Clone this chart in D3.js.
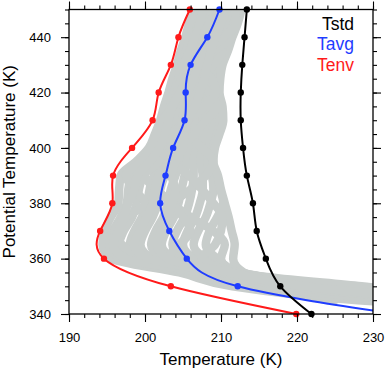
<!DOCTYPE html>
<html>
<head>
<meta charset="utf-8">
<script src="https://cdn.jsdelivr.net/npm/d3@7"></script>
<style>
  body { margin: 0; background: #fff; }
  svg text { font-family: "Liberation Sans", Arial, Helvetica, sans-serif; }
</style>
</head>
<body>
<div id="chart"></div>
<script>
// potential temperature levels (K)
const levels = [340, 350, 360, 370, 380, 390, 400, 410, 420, 430, 440, 450];
const tenv = [219.9, 203.4, 194.6, 194.1, 195.7, 195.8, 198.3, 201.0, 201.8, 203.4, 204.4, 205.9];
const tavg = [233.0, 212.2, 205.5, 203.2, 202.0, 202.7, 203.7, 205.2, 205.35, 206.0, 208.2, 209.8];
const tstd = [221.9, 217.8, 215.9, 214.7, 214.2, 213.4, 212.9, 212.6, 212.6, 212.8, 213.1, 213.4];

// individual profiles (grey), every 5 K from 340 to 450; null = no data
const fineLevels = [340, 345, 350, 355, 360, 365, 370, 375, 380, 385, 390, 395, 400, 405, 410, 415, 420, 425, 430, 435, 440, 445, 450];
const profiles = [
  [262, 228, 211.5, 204.5, 195.6, 194.4, 194.7, 195.5, 196.5, 196.6, 196.8, 198.8, 200.5, 201.3, 202.0, 202.5, 203.1, 203.6, 204.2, 204.7, 205.3, 205.8, 206.3],
  [265, 230, 213, 205.5, 196.8, 195.3, 195.8, 196.8, 197.6, 197.8, 198.2, 200.0, 201.5, 202.3, 202.9, 203.3, 203.8, 204.4, 204.8, 205.4, 206.0, 206.4, 206.8],
  [268, 232, 214.5, 206.5, 198.2, 196.6, 197.2, 198.3, 198.9, 199.2, 199.8, 201.3, 202.6, 203.2, 203.6, 204.0, 204.4, 205.0, 205.6, 206.0, 206.4, 207.0, 207.4],
  [270, 235, 215.5, 207.5, 199.6, 198.0, 198.6, 199.6, 200.3, 200.6, 201.2, 202.6, 203.4, 204.0, 204.4, 204.8, 205.2, 205.5, 206.0, 206.6, 207.2, 207.5, 208.0],
  [272, 238, 216.5, 208.5, 201.0, 199.4, 200.0, 201.0, 201.7, 202.0, 202.6, 203.6, 204.3, 204.8, 205.2, 205.5, 205.8, 206.1, 206.7, 207.2, 207.8, 208.2, 208.6],
  [275, 240, 218, 209.5, 202.4, 200.8, 201.4, 202.4, 203.0, 203.4, 204.0, 204.6, 205.2, 205.6, 206.0, 206.2, 206.4, 206.8, 207.3, 207.8, 208.3, 208.7, 209.2],
  [null, 225, 215, 210.5, 203.8, 202.2, 202.8, 203.8, 204.4, 204.8, 205.2, 205.5, 206.0, 206.4, 206.8, 206.9, 207.0, 207.4, 207.9, 208.4, 208.9, 209.3, 209.8],
  [278, 242, 220, 211.5, 205.2, 203.6, 204.2, 205.2, 205.8, 206.2, 206.4, 206.4, 206.8, 207.2, 207.6, 207.6, 207.6, 208.0, 208.5, 209.0, 209.5, 209.9, 210.4],
  [275, 240, 222, 212, 206.6, 205.0, 205.6, 206.6, 207.2, 207.6, 207.6, 207.3, 207.6, 208.0, 208.4, 208.3, 208.3, 208.6, 209.1, 209.6, 210.0, 210.5, 211.0],
  [270, 238, 224, 212.4, 208.0, 206.4, 207.0, 208.0, 208.6, 209.0, 208.8, 208.2, 208.4, 208.8, 209.2, 209.0, 209.0, 209.2, 209.6, 210.1, 210.6, 211.1, 211.6],
  [275, 244, 225, 212.6, 209.5, 208.0, 208.5, 209.5, 210.3, 209.9, 209.5, 208.9, 209.0, 209.5, 209.9, 209.8, 209.6, 209.7, 210.0, 210.6, 211.1, 211.7, 212.2],
  [280, 248, 228.5, 213, 211.6, 211.8, 211.4, 211.0, 210.5, 210.0, 209.6, 209.0, 209.2, 209.8, 210.3, 210.2, 209.8, 209.9, 210.2, 210.9, 211.5, 212.2, 212.7],
  [265, 236, 219.5, 212.2, 210.0, 210.5, 209.0, 206.0, 204.0, 206.0, 208.0, 209.0, 207.5, 205.5, 204.0, 205.0, 206.0, 207.5, 209.0, 210.2, 209.0, 207.8, 207.0],
  [262, 233, 217, 209, 203.0, 204.5, 206.0, 205.0, 203.5, 201.5, 200.0, 202.0, 204.5, 206.5, 208.0, 209.5, 208.4, 206.5, 205.2, 205.8, 207.0, 208.5, 210.0],
  [null, 224, 216, 211.5, 207.5, 209.2, 210.0, 210.2, 209.0, 207.5, 205.8, 203.5, 202.0, 203.5, 205.5, 207.8, 209.3, 208.8, 207.0, 209.0, 211.3, 210.2, 208.3],
  [260, 230, 214, 207, 200.0, 197.0, 196.0, 197.5, 200.0, 198.5, 197.5, 199.5, 200.8, 201.6, 202.3, 203.6, 204.2, 204.8, 206.5, 208.2, 210.3, 212.0, 211.8],
  [268, 234, 216, 208, 197.5, 195.8, 196.5, 197.2, 197.8, 198.6, 199.0, 200.6, 201.9, 202.6, 203.1, 203.6, 204.6, 205.2, 205.2, 205.9, 206.6, 207.2, 207.6],
  [272, 239, 219, 210, 200.5, 198.6, 199.3, 200.2, 201.0, 201.3, 201.8, 203.1, 203.8, 204.5, 204.9, 205.2, 205.6, 206.4, 207.0, 207.5, 207.6, 208.5, 209.5],
  [275, 241, 221, 211.2, 203.0, 201.6, 202.1, 203.0, 203.6, 204.0, 203.5, 204.0, 205.0, 205.2, 205.6, 206.6, 207.2, 207.8, 208.2, 208.7, 209.3, 210.0, 210.8]
];

const xTicks = [190, 200, 210, 220, 230];
const yTicks = [340, 360, 380, 400, 420, 440];

const width = 386, height = 371;
const plot = { left: 69, right: 373, top: 9.5, bottom: 314 };

const svg = d3.select("#chart").append("svg")
    .attr("width", width)
    .attr("height", height);

const x = d3.scaleLinear().domain([190, 230]).range([plot.left, plot.right]);
const y = d3.scaleLinear().domain([340, 450]).range([plot.bottom, plot.top]);

svg.append("clipPath").attr("id", "clip")
  .append("rect")
    .attr("x", plot.left).attr("y", plot.top)
    .attr("width", plot.right - plot.left)
    .attr("height", plot.bottom - plot.top);

// grey profiles
const fineLine = d3.line()
    .defined(d => d[0] != null)
    .x(d => x(d[0]))
    .y(d => y(d[1]))
    .curve(d3.curveMonotoneY);

svg.append("g")
    .attr("clip-path", "url(#clip)")
  .selectAll("path")
  .data(profiles)
  .enter().append("path")
    .attr("d", p => fineLine(p.map((t, i) => [t, fineLevels[i]])))
    .style("fill", "none")
    .style("stroke", "#c8cdcb")
    .style("stroke-width", 8.5)
    .style("stroke-linejoin", "round")
    .style("stroke-linecap", "round");

// mean lines
const smooth = d3.line()
    .x(d => x(d[0]))
    .y(d => y(d[1]))
    .curve(d3.curveNatural);

const series = [
  { name: "Tenv", color: "#ff1a1a", values: tenv },
  { name: "Tavg", color: "#1f3dff", values: tavg },
  { name: "Tstd", color: "#000000", values: tstd }
];

series.forEach(s => {
  const pts = s.values.map((t, i) => [t, levels[i]]);
  svg.append("path")
      .attr("clip-path", "url(#clip)")
      .attr("d", smooth(pts))
      .style("fill", "none")
      .style("stroke", s.color)
      .style("stroke-width", 2);
  svg.append("g").selectAll("circle")
    .data(pts.filter(d => d[0] <= 230))
    .enter().append("circle")
      .attr("cx", d => x(d[0]))
      .attr("cy", d => y(d[1]))
      .attr("r", 3.2)
      .style("fill", s.color);
});

// axes
const xMinor = d3.range(190, 231, 2);
const yMinor = d3.range(340, 451, 5);

function styleAxis(g) {
  g.select(".domain").remove();
  g.selectAll("line").style("stroke", "#000").style("stroke-width", 1.1);
  g.selectAll("text").style("font-size", "13px").style("fill", "#000");
}

svg.append("g").attr("transform", `translate(0,${plot.bottom})`)
    .call(d3.axisBottom(x).tickValues(xMinor).tickSize(4).tickFormat(""))
    .call(styleAxis);
svg.append("g").attr("transform", `translate(0,${plot.bottom})`)
    .call(d3.axisBottom(x).tickValues(xTicks).tickSize(8).tickPadding(11).tickFormat(d3.format("d")))
    .call(styleAxis);
svg.append("g").attr("transform", `translate(0,${plot.top})`)
    .call(d3.axisTop(x).tickValues(xMinor).tickSize(4).tickFormat(""))
    .call(styleAxis);
svg.append("g").attr("transform", `translate(0,${plot.top})`)
    .call(d3.axisTop(x).tickValues(xTicks).tickSize(8).tickFormat(""))
    .call(styleAxis);

svg.append("g").attr("transform", `translate(${plot.left},0)`)
    .call(d3.axisLeft(y).tickValues(yMinor).tickSize(4).tickFormat(""))
    .call(styleAxis);
svg.append("g").attr("transform", `translate(${plot.left},0)`)
    .call(d3.axisLeft(y).tickValues(yTicks).tickSize(8).tickPadding(10).tickFormat(d3.format("d")))
    .call(styleAxis);
svg.append("g").attr("transform", `translate(${plot.right},0)`)
    .call(d3.axisRight(y).tickValues(yMinor).tickSize(4).tickFormat(""))
    .call(styleAxis);
svg.append("g").attr("transform", `translate(${plot.right},0)`)
    .call(d3.axisRight(y).tickValues(yTicks).tickSize(8).tickFormat(""))
    .call(styleAxis);

// frame
svg.append("rect")
    .attr("x", plot.left).attr("y", plot.top)
    .attr("width", plot.right - plot.left)
    .attr("height", plot.bottom - plot.top)
    .style("fill", "none")
    .style("stroke", "#000")
    .style("stroke-width", 1.3);

// axis titles
svg.append("text")
    .attr("x", (plot.left + plot.right) / 2)
    .attr("y", 365)
    .attr("text-anchor", "middle")
    .style("font-size", "17px")
    .text("Temperature (K)");

svg.append("text")
    .attr("transform", "rotate(-90)")
    .attr("x", -(plot.top + plot.bottom) / 2)
    .attr("y", 15)
    .attr("text-anchor", "middle")
    .style("font-size", "17px")
    .text("Potential Temperature (K)");

// legend
const legendNames = ["Tstd", "Tavg", "Tenv"];
const legendColors = ["#000000", "#1f3dff", "#ff1a1a"];
svg.append("g").selectAll("text")
  .data(legendNames)
  .enter().append("text")
    .attr("x", 354)
    .attr("y", (d, i) => 29.5 + i * 20.8)
    .attr("text-anchor", "end")
    .style("font-size", "17.5px")
    .style("fill", (d, i) => legendColors[i])
    .text(d => d);
</script>
</body>
</html>
